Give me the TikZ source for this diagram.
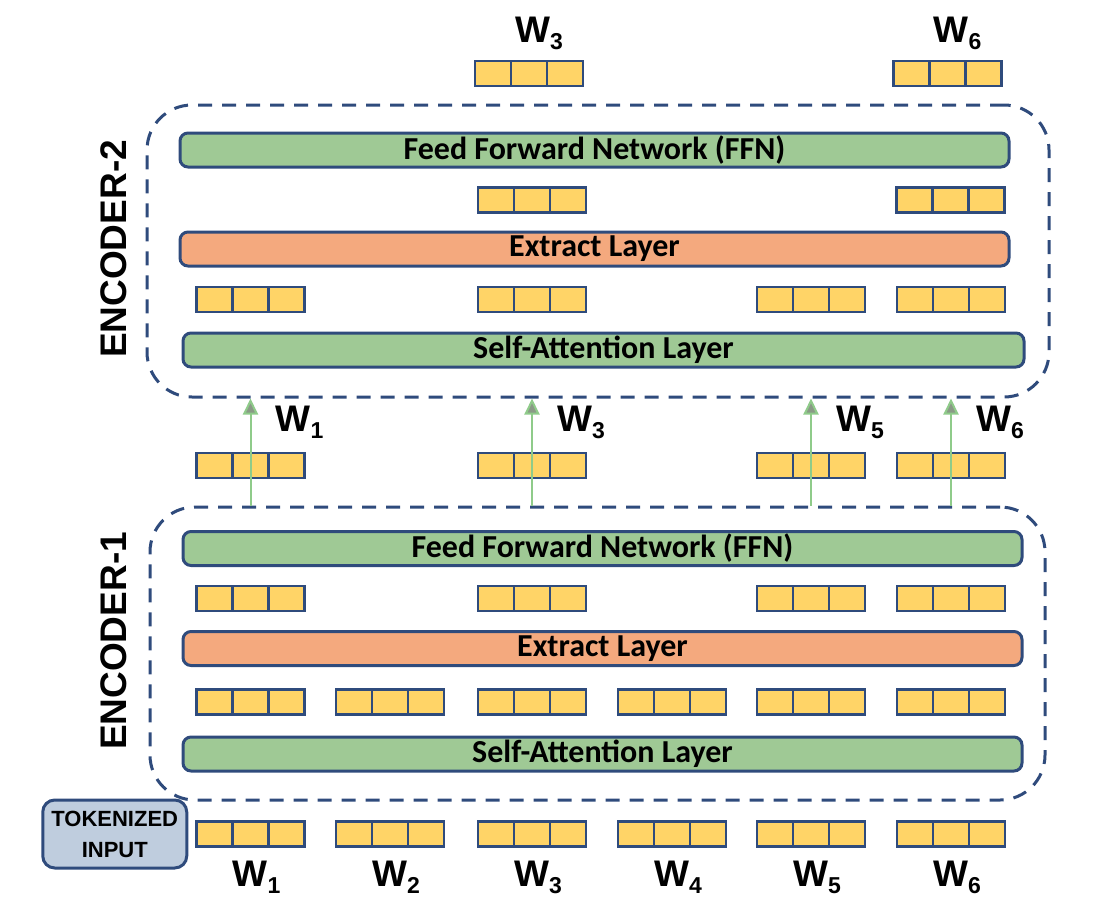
\documentclass[tikz,border=0pt]{standalone}
\usepackage{fontspec}
\setmainfont{Liberation Sans}
\newfontfamily\barfont{Carlito}
\usepackage{tikz}
\usetikzlibrary{positioning, arrows.meta, calc}

\definecolor{edgeblue}{HTML}{2F4B7C}
\definecolor{ffngreen}{HTML}{9FC995}
\definecolor{extorange}{HTML}{F4A97E}
\definecolor{tokyellow}{HTML}{FFD467}
\definecolor{inputfill}{HTML}{BFCDDE}
\definecolor{linkgreen}{HTML}{8FCB8A}
\definecolor{headgray}{HTML}{8A9A86}

\newcommand{\wsub}[1]{W\raisebox{-7pt}{\fontsize{23}{23}\selectfont #1}}

\begin{document}
\begin{tikzpicture}[
        x=1pt, y=-1pt,
        layer/.style={draw=edgeblue, line width=3pt, rounded corners=8pt, minimum height=34pt, inner sep=0pt, font={\fontsize{32}{32}\selectfont\barfont\bfseries}},
        encoder/.style={draw=edgeblue, line width=3pt, dash pattern=on 14pt off 10pt, rounded corners=45pt, inner sep=0pt},
        tokvec/.style={draw=edgeblue, fill=tokyellow, line width=2.5pt, minimum width=108pt, minimum height=25pt, inner sep=0pt,
            path picture={
                \draw[edgeblue, line width=2.5pt]
                    ($(path picture bounding box.north west)!1/3!(path picture bounding box.north east)$) -- ($(path picture bounding box.south west)!1/3!(path picture bounding box.south east)$)
                    ($(path picture bounding box.north west)!2/3!(path picture bounding box.north east)$) -- ($(path picture bounding box.south west)!2/3!(path picture bounding box.south east)$);
            }},
        uplink/.style={draw=linkgreen, line width=2pt, -{Triangle[width=15pt, length=16pt, fill=headgray]}},
        wlabel/.style={font={\fontsize{37}{40}\selectfont\bfseries}, inner sep=0pt, anchor=base},
        enclabel/.style={font={\fontsize{37}{40}\selectfont\bfseries}, inner sep=0pt, rotate=90},
        inputbox/.style={draw=edgeblue, fill=inputfill, line width=3pt, rounded corners=12pt, minimum width=144pt, minimum height=68pt, inner sep=0pt, align=center, font={\fontsize{22}{31}\selectfont\bfseries}}
    ]
        \useasboundingbox (0,0) rectangle (1097,906);

        % the two encoder blocks
        \node[encoder, minimum width=902pt, minimum height=292pt] (enc2) at (598,251) {};
        \node[encoder, minimum width=895pt, minimum height=293pt] (enc1) at (597.5,653.5) {};
        \node[enclabel] (lab2) at (114,249) {ENCODER-2};
        \node[enclabel] (lab1) at (114,641) {ENCODER-1};

        \node[layer, fill=ffngreen, minimum width=829pt] (ffn2) at (594.5,150) {Feed Forward Network (FFN)};
        \node[layer, fill=extorange, minimum width=829pt] (ext2) at (594.5,249) {Extract Layer};
        \node[layer, fill=ffngreen, minimum width=841pt] (sa2) at (603.5,350) {Self-Attention Layer};
        \node[layer, fill=ffngreen, minimum width=839pt] (ffn1) at (602.5,548.5) {Feed Forward Network (FFN)};
        \node[layer, fill=extorange, minimum width=839pt] (ext1) at (602.5,648.5) {Extract Layer};
        \node[layer, fill=ffngreen, minimum width=839pt] (sa1) at (602.5,754) {Self-Attention Layer};

        % token vectors, row by row
        \foreach \i/\cx in {1/250.5, 2/390, 3/532, 4/672, 5/811, 6/951} {
            \node[tokvec] (in\i) at (\cx,834) {};
            \node[wlabel] (win\i) at ([xshift=6pt, yshift=-39pt]in\i.south) {\wsub{\i}};
            \node[tokvec] (ea\i) at (\cx,702) {};
        }
        \foreach \i/\cx in {1/250.5, 3/532, 5/811, 6/951} {
            \node[tokvec] (eb\i) at (\cx,598.5) {};
            \node[tokvec] (mid\i) at (\cx,465.5) {};
            \node[tokvec] (da\i) at (\cx,299.5) {};
        }
        \foreach \i/\cx in {3/532, 6/950.5} {
            \node[tokvec] (db\i) at (\cx,200) {};
        }
        \foreach \i/\cx in {3/529, 6/947.5} {
            \node[tokvec] (out\i) at (\cx,73.5) {};
            \node[wlabel] (wout\i) at ([xshift=10pt, yshift=17pt]out\i.north) {\wsub{\i}};
        }

        % links from encoder-1 up to encoder-2
        \foreach \i in {1,3,5,6} {
            \draw[uplink] (mid\i.center |- enc1.north) -- (mid\i.center |- enc2.south);
            \node[wlabel] (wmid\i) at ([xshift=49pt, yshift=20pt]mid\i.north) {\wsub{\i}};
        }

        \node[inputbox, left=7pt of in1] (input) {TOKENIZED\\INPUT};
    \end{tikzpicture}
\end{document}
